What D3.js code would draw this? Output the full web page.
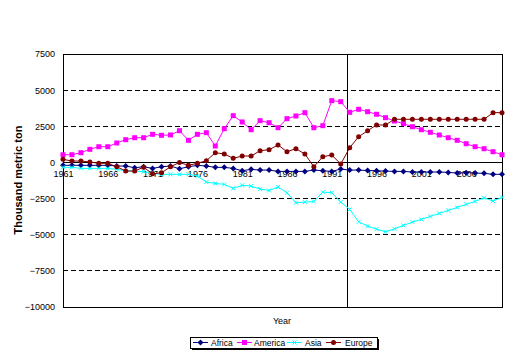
<!DOCTYPE html>
<html><head><meta charset="utf-8">
<script src="https://cdn.jsdelivr.net/npm/d3@7"></script>
<style>body{margin:0;background:#fff}svg{display:block}text{font-family:"Liberation Sans",Arial,sans-serif}</style>
</head><body><svg id="c" width="522" height="357"></svg>
<script>
const years = d3.range(1961, 2011);
const africa = [-201,-201,-201,-201,-201,-201,-250,-250,-367,-298,-413,-298,-250,-440,-298,-201,-250,
  -340,-340,-413,-575,-480,-530,-530,-620,-620,-620,-620,-530,-575,-620,-460,-530,-530,
  -560,-575,-600,-620,-620,-665,-665,-665,-665,-690,-734,-710,-734,-757,-824,-824];
const america = [533,533,672,907,1087,1087,1343,1572,1710,1710,1945,1877,1900,2195,1530,1945,2057,
  1136,2334,3234,2798,2264,2888,2749,2403,3026,3213,3442,2403,2541,4273,4204,3469,3677,
  3511,3331,3096,2867,2680,2472,2264,2084,1897,1710,1530,1295,1087,949,741,533];
const asia = [-340,-340,-413,-413,-413,-413,-480,-575,-600,-644,-757,-824,-824,-824,-824,-942,-1357,
  -1450,-1520,-1795,-1588,-1635,-1842,-1935,-1703,-2098,-2790,-2745,-2700,-2050,-2098,-2745,-3250,-4105,
  -4405,-4612,-4800,-4590,-4355,-4127,-3940,-3733,-3525,-3317,-3110,-2900,-2694,-2445,-2673,-2417];
const europe = [213,97,97,28,-62,-62,-298,-596,-596,-330,-790,-713,-300,0,-200,-60,118,
  672,582,284,443,443,810,879,1205,741,949,582,-298,395,512,-111,1018,1780,
  2195,2590,2590,2985,2985,2985,2985,2985,2985,2985,2985,2985,2985,2985,3442,3442];
const seriesNames = ["Africa","America","Asia","Europe"];
const seriesColors = ["#000080","#FF00FF","#00FFFF","#800000"];
const seriesMarkers = ["diamond","square","cross","circle"];
const yTicks = [7500,5000,2500,0,-2500,-5000,-7500,-10000];
const xTickYears = [1961,1966,1971,1976,1981,1986,1991,1996,2001,2006];
const markerYear = 1992.75;

const svg = d3.select("#c");
const x = d3.scaleLinear().domain([1961,2010]).range([63,502]);
const y = d3.scaleLinear().domain([-10000,7500]).range([307,54]);

// gridlines
svg.append("g").selectAll("line").data(yTicks.filter(t=>t!==0 && t!==7500 && t!==-10000)).join("line")
  .attr("x1",x(1961)).attr("x2",x(2010)).attr("y1",d=>y(d)).attr("y2",d=>y(d))
  .attr("stroke","#000").attr("stroke-dasharray","5,3").attr("shape-rendering","crispEdges");

// plot border
svg.append("rect").attr("x",x(1961)).attr("y",y(7500)).attr("width",x(2010)-x(1961)).attr("height",y(-10000)-y(7500))
  .attr("fill","none").attr("stroke","#000").attr("shape-rendering","crispEdges");

// zero axis
svg.append("line").attr("x1",x(1961)).attr("x2",x(2010)).attr("y1",y(0)).attr("y2",y(0))
  .attr("stroke","#000").attr("shape-rendering","crispEdges");

// vertical marker line
svg.append("line").attr("x1",x(markerYear)).attr("x2",x(markerYear)).attr("y1",y(7500)).attr("y2",y(-10000))
  .attr("stroke","#000").attr("shape-rendering","crispEdges");

// y axis labels
const yAxis = d3.axisLeft(y).tickValues(yTicks).tickFormat(d3.format("d")).tickSize(0).tickPadding(8);
const ga = svg.append("g").attr("transform",`translate(${x(1961)},0)`).call(yAxis);
ga.select(".domain").remove();
ga.selectAll("text").attr("font-size","9px").attr("fill","#000").style("font-family","'Liberation Sans',Arial,sans-serif");

// x axis labels
const xAxis = d3.axisBottom(x).tickValues(xTickYears).tickFormat(d3.format("d")).tickSize(0).tickPadding(8);
const gx = svg.append("g").attr("transform",`translate(0,${y(0)})`).call(xAxis);
gx.select(".domain").remove();
gx.selectAll("text").attr("font-size","9px").attr("fill","#000").style("font-family","'Liberation Sans',Arial,sans-serif");

// series
const data = [africa, america, asia, europe];
const line = d3.line().x((d,i)=>x(years[i])).y(d=>y(d));
function drawMarker(g, type, color, cx, cy){
  if(type==="diamond") g.append("path").attr("d",`M${cx},${cy-3}L${cx+3},${cy}L${cx},${cy+3}L${cx-3},${cy}Z`).attr("fill",color);
  else if(type==="square") g.append("rect").attr("x",cx-2.5).attr("y",cy-2.5).attr("width",5).attr("height",5).attr("fill",color);
  else if(type==="circle") g.append("circle").attr("cx",cx).attr("cy",cy).attr("r",2.5).attr("fill",color);
  else g.append("path").attr("d",`M${cx-2},${cy-2}L${cx+2},${cy+2}M${cx-2},${cy+2}L${cx+2},${cy-2}`).attr("stroke",color).attr("stroke-width",1);
}
data.forEach((vals,si)=>{
  const g = svg.append("g");
  g.append("path").datum(vals).attr("d",line).attr("fill","none").attr("stroke",seriesColors[si]).attr("stroke-width",1);
  vals.forEach((v,i)=>drawMarker(g, seriesMarkers[si], seriesColors[si], x(years[i]), y(v)));
});

// axis titles
svg.append("text").attr("transform","translate(22,180) rotate(-90)").attr("text-anchor","middle")
  .attr("font-size","11px").attr("font-weight","bold").text("Thousand metric ton");
svg.append("text").attr("x",282).attr("y",324).attr("text-anchor","middle").attr("font-size","9px").text("Year");

// legend
const lg = svg.append("g");
lg.append("rect").attr("x",192).attr("y",339).attr("width",187).attr("height",11).attr("fill","#000");
lg.append("rect").attr("x",190).attr("y",337).attr("width",187).attr("height",11).attr("fill","#fff").attr("stroke","#000").attr("shape-rendering","crispEdges");
const legendX = [193,237,287,326];
const legendTextX = [211,254,305,345];
seriesNames.forEach((n,i)=>{
  lg.append("line").attr("x1",legendX[i]).attr("x2",legendX[i]+15).attr("y1",342.5).attr("y2",342.5).attr("stroke",seriesColors[i]);
  drawMarker(lg, seriesMarkers[i], seriesColors[i], legendX[i]+7.5, 342.5);
  lg.append("text").attr("x",legendTextX[i]).attr("y",346).attr("font-size","8.5px").text(n);
});
</script></body></html>
